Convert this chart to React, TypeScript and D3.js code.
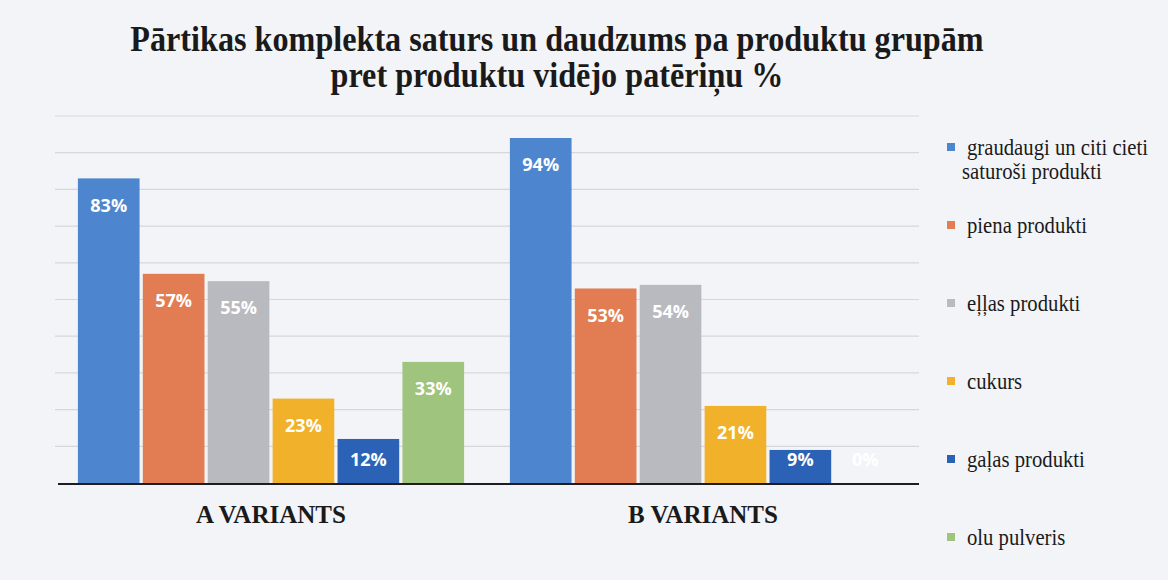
import * as d3 from "d3";

const variants = ["A VARIANTS", "B VARIANTS"];
const groups = [
    "graudaugi un citi cieti saturoši produkti",
    "piena produkti",
    "eļļas produkti",
    "cukurs",
    "gaļas produkti",
    "olu pulveris",
];
const legendLines = [
    ["graudaugi un citi cieti", "saturoši produkti"],
    ["piena produkti"],
    ["eļļas produkti"],
    ["cukurs"],
    ["gaļas produkti"],
    ["olu pulveris"],
];
const valuesA = [83, 57, 55, 23, 12, 33];
const valuesB = [94, 53, 54, 21, 9, 0];
const gridTicks = [10, 20, 30, 40, 50, 60, 70, 80, 90, 100];
const COLORS = ["#4d86cf", "#e27c52", "#b9babf", "#f1b12a", "#2b62b5", "#9fc47e"];

const titleLines = [
    "Pārtikas komplekta saturs un daudzums pa produktu grupām",
    "pret produktu vidējo patēriņu %",
];

export default function App() {
    const width = 1168;
    const height = 580;
    const plot = { left: 55, right: 919, top: 116, bottom: 483 };

    const x0 = d3.scaleBand<string>()
        .domain(variants)
        .range([plot.left, plot.right])
        .paddingInner(0.106)
        .paddingOuter(0.053);
    const x1 = d3.scaleBand<string>()
        .domain(groups)
        .range([0, x0.bandwidth()])
        .paddingInner(0.05);
    const y = d3.scaleLinear().domain([0, 100]).range([plot.bottom, plot.top]);
    const color = d3.scaleOrdinal<string, string>().domain(groups).range(COLORS);

    const table = variants.map((v, i) => ({
        variant: v,
        values: (i === 0 ? valuesA : valuesB).map((val, j) => ({ group: groups[j], value: val })),
    }));

    const serif = "'Liberation Serif', 'Times New Roman', serif";
    const legendY = d3.scalePoint<number>().domain(d3.range(groups.length)).range([147, 537]);

    return (
        <div style={{ position: "absolute", left: 0, top: 0 }}>
            <svg width={width} height={height} style={{ display: "block" }}>
                <rect width={width} height={height} fill="#f3f4f8" />
                {/* title is narrow and tall in the scan, so squeeze it sideways */}
                {titleLines.map((t, i) => (
                    <text key={t} transform={`translate(557,${51 + i * 36}) scale(0.92,1)`} textAnchor="middle"
                        fontFamily={serif} fontWeight="bold" fontSize={35} fill="#1a1a1a">{t}</text>
                ))}
                {gridTicks.map(t => (
                    <line key={t} x1={plot.left} x2={plot.right} y1={y(t)} y2={y(t)} stroke="#d6d7db" strokeWidth={1.2} />
                ))}
                {table.map(row => (
                    <g key={row.variant} transform={`translate(${x0(row.variant)},0)`}>
                        {row.values.map(d => {
                            const top = y(d.value);
                            const ly = Math.min(top + 27, plot.bottom - 23);
                            return (
                                <g key={d.group}>
                                    <rect x={x1(d.group)} y={top} width={x1.bandwidth()} height={plot.bottom - top} fill={color(d.group)} />
                                    <text x={x1(d.group)! + x1.bandwidth() / 2} y={ly} dy="0.35em" textAnchor="middle"
                                        fontFamily="'Open Sans', sans-serif" fontWeight="bold" fontSize={18} fill="#ffffff">{d.value}%</text>
                                </g>
                            );
                        })}
                        <text x={x0.bandwidth() / 2} y={523} textAnchor="middle" fontFamily={serif} fontWeight="bold" fontSize={25} fill="#1a1a1a">{row.variant}</text>
                    </g>
                ))}
                <line x1={plot.left + 3} x2={plot.right} y1={plot.bottom + 1} y2={plot.bottom + 1} stroke="#1e1e1e" strokeWidth={2.2} />
                {groups.map((g, i) => (
                    <g key={g}>
                        <rect x={947} y={legendY(i)! - 4} width={8} height={8} fill={color(g)} />
                        {legendLines[i].map((line, k) => (
                            <text key={line} transform={`translate(${k === 0 ? 967 : 962},${legendY(i)! + k * 24}) scale(0.9,1)`} dy="0.35em"
                                fontFamily={serif} fontSize={23} fill="#1a1a1a">{line}</text>
                        ))}
                    </g>
                ))}
            </svg>
        </div>
    );
}
